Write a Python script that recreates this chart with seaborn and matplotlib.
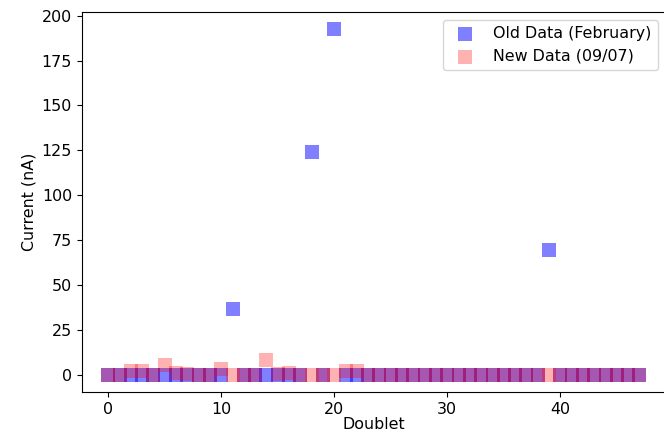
import numpy as np
import pandas as pd
import matplotlib
matplotlib.use("Agg")
import matplotlib.pyplot as plt
import seaborn as sns

# Doublet index 0..47
doublets = list(range(48))

# Measured current (nA) per doublet, February run
old_current = [0.0] * 48
old_current[11] = 36.5
old_current[18] = 124.3
old_current[20] = 192.6
old_current[39] = 69.6

# Measured current (nA) per doublet, 09/07 run
new_current = [0.0] * 48
new_current[2] = 2.0
new_current[3] = 2.3
new_current[5] = 5.2
new_current[6] = 1.2
new_current[7] = 0.4
new_current[10] = 3.4
new_current[14] = 8.3
new_current[15] = 0.3
new_current[16] = 0.8
new_current[21] = 1.8
new_current[22] = 1.8

old_label = "Old Data (February)"
new_label = "New Data (09/07)"

df_old = pd.DataFrame({"Doublet": doublets, "Current": old_current})
df_new = pd.DataFrame({"Doublet": doublets, "Current": new_current})

FS = 11.4

fig, ax = plt.subplots(figsize=(6.64, 4.30), dpi=100)
fig.subplots_adjust(left=0.123, right=1.003, top=0.9728, bottom=0.0884)

sns.scatterplot(data=df_old, x="Doublet", y="Current", marker="s", s=92,
                color="blue", alpha=0.5, linewidth=0, label=old_label, ax=ax)
sns.scatterplot(data=df_new, x="Doublet", y="Current", marker="s", s=92,
                color="red", alpha=0.3, linewidth=0, label=new_label, ax=ax)

ax.set_xlabel("Doublet", fontsize=FS, labelpad=0)
ax.set_ylabel("Current (nA)", fontsize=FS)
ax.set_xticks([0, 10, 20, 30, 40])
ax.set_yticks([0, 25, 50, 75, 100, 125, 150, 175, 200])
ax.tick_params(labelsize=FS)
ax.legend(loc="upper right", fontsize=FS)

fig.savefig("out.png", dpi=100)
